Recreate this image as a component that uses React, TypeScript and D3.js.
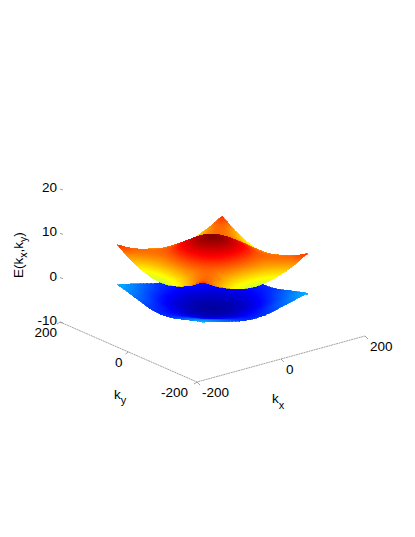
import React from 'react';
import * as d3 from 'd3';

// E(kx,ky), one quadrant: index 0 = centre (k=0), index 10 = edge (|k|=125)
const upperBand = [
  [11.0, 10.8, 10.4, 9.8, 9.0, 8.2, 7.4, 6.5, 5.6, 4.6, 3.8],
  [10.8, 10.6, 10.2, 9.6, 8.9, 8.1, 7.3, 6.5, 5.6, 4.7, 3.9],
  [10.4, 10.2, 9.8, 9.3, 8.7, 8.0, 7.2, 6.5, 5.7, 4.8, 4.0],
  [9.8, 9.6, 9.3, 8.9, 8.4, 7.7, 7.1, 6.5, 5.8, 5.0, 4.3],
  [9.0, 8.9, 8.7, 8.4, 7.9, 7.4, 7.0, 6.5, 6.0, 5.3, 4.6],
  [8.2, 8.1, 8.0, 7.7, 7.4, 7.2, 7.0, 6.7, 6.3, 5.7, 5.0],
  [7.4, 7.3, 7.2, 7.1, 7.0, 7.0, 7.0, 6.9, 6.6, 6.1, 5.5],
  [6.5, 6.5, 6.5, 6.5, 6.5, 6.7, 6.9, 7.0, 6.9, 6.5, 6.0],
  [5.6, 5.6, 5.7, 5.8, 6.0, 6.3, 6.6, 6.9, 7.1, 7.0, 6.6],
  [4.6, 4.7, 4.8, 5.0, 5.3, 5.7, 6.1, 6.5, 7.0, 7.5, 7.4],
  [3.8, 3.9, 4.0, 4.3, 4.6, 5.0, 5.5, 6.0, 6.6, 7.4, 8.0],
];

const lowerBand = [
  [-5.5, -5.5, -5.4, -5.3, -5.1, -4.8, -4.5, -4.2, -3.9, -3.6, -3.4],
  [-5.5, -5.4, -5.4, -5.2, -5.0, -4.8, -4.5, -4.1, -3.8, -3.6, -3.3],
  [-5.4, -5.4, -5.2, -5.1, -4.9, -4.6, -4.3, -4.0, -3.7, -3.4, -3.2],
  [-5.3, -5.2, -5.1, -5.0, -4.8, -4.5, -4.2, -3.8, -3.5, -3.2, -3.0],
  [-5.1, -5.0, -4.9, -4.8, -4.6, -4.3, -4.0, -3.6, -3.2, -2.9, -2.7],
  [-4.8, -4.8, -4.6, -4.5, -4.3, -4.0, -3.7, -3.3, -2.9, -2.6, -2.4],
  [-4.5, -4.5, -4.3, -4.2, -4.0, -3.7, -3.4, -3.0, -2.6, -2.3, -2.1],
  [-4.2, -4.1, -4.0, -3.8, -3.6, -3.3, -3.0, -2.7, -2.3, -2.0, -1.8],
  [-3.9, -3.8, -3.7, -3.5, -3.2, -2.9, -2.6, -2.3, -2.0, -1.7, -1.5],
  [-3.6, -3.6, -3.4, -3.2, -2.9, -2.6, -2.3, -2.0, -1.7, -1.4, -1.2],
  [-3.4, -3.3, -3.2, -3.0, -2.7, -2.4, -2.1, -1.8, -1.5, -1.2, -1.0],
];

const gridK = [0, 12.5, 25, 37.5, 50, 62.5, 75, 87.5, 100, 112.5, 125];
const kTicks = [-200, 0, 200];
const zTicks = [-10, 0, 10, 20];
const jetDomain = [-6, -4.1, 0.4, 4.6, 8.7, 11];
const jetStops = ['#000080', '#0000ff', '#00ffff', '#ffff00', '#ff0000', '#800000'];

// oblique projection of the axes box, picked off the corners in the picture
const kxX = d3.scaleLinear().domain([-200, 200]).range([0, 168]);
const kxY = d3.scaleLinear().domain([-200, 200]).range([0, -46]);
const kyX = d3.scaleLinear().domain([-200, 200]).range([0, -137]);
const kyY = d3.scaleLinear().domain([-200, 200]).range([0, -60]);
const zY = d3.scaleLinear().domain([-10, 20]).range([0, -133]);

const project = (kx: number, ky: number, z: number): [number, number] => [
  197 + kxX(kx) + kyX(ky),
  382 + kxY(kx) + kyY(ky) + zY(z),
];

const color = d3.scaleLinear<string>().domain(jetDomain).range(jetStops).clamp(true);

// ky labels drift closer to the axis as k grows
const kyLabelShift = d3.scaleLinear().domain([-200, 200]).range([-9, -3]);

// full k axis, both signs
const fullK = [...gridK.slice(1).reverse().map(k => -k), ...gridK];
const valueAt = (band: number[][], i: number, j: number) =>
  band[Math.abs(i - 10)][Math.abs(j - 10)];

// each grid cell is painted in small pieces so the colour runs smoothly, like matlab's shading interp
const SHADE_STEPS = 4;
const shadeT = d3.range(SHADE_STEPS + 1).map(s => s / SHADE_STEPS);

type Quad = {d: string; fill: string; depth: number};

const buildQuads = (band: number[][]): Quad[] => {
  const quads: Quad[] = [];
  const line = d3.line();
  for (let i = 0; i < fullK.length - 1; i++) {
    for (let j = 0; j < fullK.length - 1; j++) {
      const z00 = valueAt(band, i, j);
      const z10 = valueAt(band, i + 1, j);
      const z01 = valueAt(band, i, j + 1);
      const z11 = valueAt(band, i + 1, j + 1);
      const kxAt = d3.scaleLinear().range([fullK[i], fullK[i + 1]]);
      const kyAt = d3.scaleLinear().range([fullK[j], fullK[j + 1]]);
      const zAt = (u: number, v: number) =>
        z00 * (1 - u) * (1 - v) + z10 * u * (1 - v) + z01 * (1 - u) * v + z11 * u * v;

      for (let a = 0; a < SHADE_STEPS; a++) {
        for (let b = 0; b < SHADE_STEPS; b++) {
          const corners = [
            [shadeT[a], shadeT[b]],
            [shadeT[a + 1], shadeT[b]],
            [shadeT[a + 1], shadeT[b + 1]],
            [shadeT[a], shadeT[b + 1]],
          ];
          const zs = corners.map(([u, v]) => zAt(u, v));
          quads.push({
            d: line(corners.map(([u, v], n) => project(kxAt(u), kyAt(v), zs[n]))) + 'Z',
            fill: color(d3.mean(zs) as number),
            depth: kxAt(shadeT[a]) + kyAt(shadeT[b]),
          });
        }
      }
    }
  }
  // back to front
  return quads.sort((p, q) => q.depth - p.depth);
};

const font = 'Liberation Sans, Arial, sans-serif';
const axisColor = '#8c8c8c';

const App = () => {
  const lower = buildQuads(lowerBand);
  const upper = buildQuads(upperBand);
  const origin = project(-200, -200, -10);
  const kxEnd = project(200, -200, -10);
  const kyEnd = project(-200, 200, -10);

  return (
    <svg width={415} height={537} style={{position: 'absolute', left: 0, top: 0, background: '#fff'}} fontFamily={font} fontSize={13.5} fill="#000">
      <g fill="none" stroke={axisColor} strokeWidth={0.8}>
        <path d={d3.line()([kyEnd, origin, kxEnd]) as string} strokeDasharray="2 0.6" />
        {kTicks.map(k => {
          const [x, y] = project(k, -200, -10);
          return <line key={'x' + k} x1={x} y1={y} x2={x + 3} y2={y + 3} />;
        })}
        {kTicks.map(k => {
          const [x, y] = project(-200, k, -10);
          return <line key={'y' + k} x1={x} y1={y} x2={x - 3} y2={y + 2} />;
        })}
        {zTicks.map(z => {
          const [x, y] = project(-200, 200, z);
          return <line key={'z' + z} x1={x} y1={y} x2={x + 3} y2={y + 1} />;
        })}
      </g>

      <g shapeRendering="crispEdges">
        {lower.map((q, i) => <path key={'l' + i} d={q.d} fill={q.fill} stroke={q.fill} strokeWidth={0.7} />)}
        {upper.map((q, i) => <path key={'u' + i} d={q.d} fill={q.fill} stroke={q.fill} strokeWidth={0.7} />)}
      </g>

      {kTicks.map(k => {
        const [x, y] = project(k, -200, -10);
        return <text key={'xl' + k} x={x + 5} y={y + 15}>{k}</text>;
      })}
      {kTicks.map(k => {
        const [x, y] = project(-200, k, -10);
        return <text key={'yl' + k} x={x + kyLabelShift(k)} y={y + 14.5} textAnchor="end">{k}</text>;
      })}
      {zTicks.map(z => {
        const [x, y] = project(-200, 200, z);
        return <text key={'zl' + z} x={x - 3} y={y + 3} textAnchor="end">{z}</text>;
      })}

      <text x={272} y={403}>k<tspan dy={6} fontSize={11}>x</tspan></text>
      <text x={114} y={399}>k<tspan dy={5} fontSize={11}>y</tspan></text>
      <text transform="translate(23,278) rotate(-90)">
        E(k<tspan dy={4} fontSize={10.5}>x</tspan><tspan dy={-4}>,k</tspan><tspan dy={4} fontSize={10.5}>y</tspan><tspan dy={-4}>)</tspan>
      </text>
    </svg>
  );
};

export default App;
